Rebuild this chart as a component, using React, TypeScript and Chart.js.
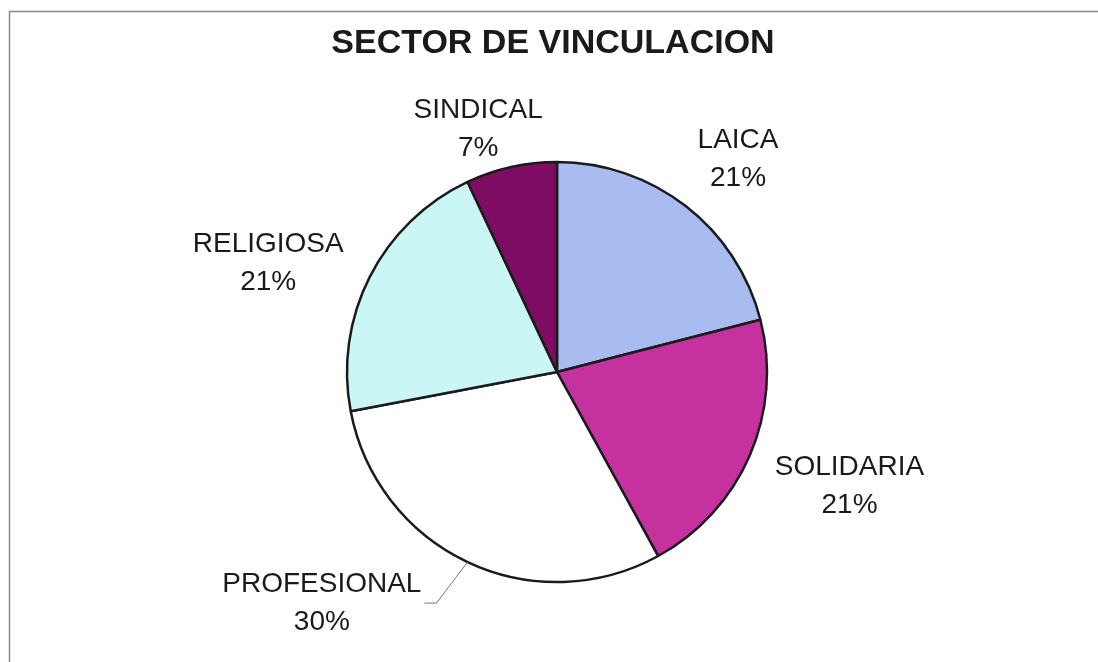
import React, { useEffect, useRef } from "react";
import { Chart, registerables } from "chart.js";

Chart.register(...registerables);

const TITLE = "SECTOR DE VINCULACION";
const categories = ["LAICA", "SOLIDARIA", "PROFESIONAL", "RELIGIOSA", "SINDICAL"];
const percentages = [21, 21, 30, 21, 7];
const sliceColors = ["#A9BCF0", "#C5319F", "#FFFFFF", "#CAF6F6", "#7E0C62"];

// label placement: shift of angle (degrees) from slice middle, distance as factor of radius
const labelAngleShift = [2.6, -2.1, 20.3, -6.3, -5.4];
const labelRadiusFactor = [1.33, 1.495, 1.57, 1.47, 1.215];
const leaderLines = [false, false, true, false, false];

const FONT = "'Liberation Sans', Arial, sans-serif";

const labelPlugin = {
  id: "sliceLabels",
  afterDraw(chart: any) {
    const ctx = chart.ctx;
    const meta = chart.getDatasetMeta(0);
    ctx.save();
    // frame
    ctx.strokeStyle = "#8a8a8a";
    ctx.lineWidth = 1.5;
    ctx.beginPath();
    ctx.moveTo(9.5, 662);
    ctx.lineTo(9.5, 11.5);
    ctx.lineTo(1098, 11.5);
    ctx.stroke();
    // title
    ctx.fillStyle = "#1a1a1a";
    ctx.font = `bold 34px ${FONT}`;
    ctx.textAlign = "center";
    ctx.textBaseline = "middle";
    ctx.fillText(TITLE, 553, 44);

    ctx.font = `28px ${FONT}`;
    meta.data.forEach((arc: any, i: number) => {
      const { x, y, startAngle, endAngle, outerRadius } = arc.getProps(
        ["x", "y", "startAngle", "endAngle", "outerRadius"],
        true
      );
      const mid = (startAngle + endAngle) / 2;
      const a = mid + (labelAngleShift[i] * Math.PI) / 180;
      const d = outerRadius * labelRadiusFactor[i];
      const cx = x + Math.cos(a) * d;
      const cy = y + Math.sin(a) * d;
      const l1 = categories[i];
      const l2 = percentages[i] + "%";
      ctx.fillStyle = "#1a1a1a";
      ctx.fillText(l1, cx, cy - 19);
      ctx.fillText(l2, cx, cy + 19);
      if (leaderLines[i]) {
        const w = ctx.measureText(l1).width;
        const ex = x + Math.cos(mid) * outerRadius;
        const ey = y + Math.sin(mid) * outerRadius;
        const right = cx + w / 2;
        ctx.strokeStyle = "#777";
        ctx.lineWidth = 1;
        ctx.beginPath();
        ctx.moveTo(ex, ey);
        ctx.lineTo(right + 15, cy);
        ctx.lineTo(right + 3, cy);
        ctx.stroke();
      }
    });
    ctx.restore();
  },
};

export default function App() {
  const ref = useRef<HTMLCanvasElement>(null);
  useEffect(() => {
    if (!ref.current) return;
    const chart = new Chart(ref.current, {
      type: "pie",
      data: {
        labels: categories,
        datasets: [
          {
            data: percentages,
            backgroundColor: sliceColors,
            borderColor: "#1b1b1b",
            borderWidth: 2.5,
            radius: 210,
          } as any,
        ],
      },
      options: {
        responsive: false,
        animation: false,
        layout: { padding: { left: 16, right: 0, top: 82, bottom: 0 } },
        plugins: {
          legend: { display: false },
          tooltip: { enabled: false },
          title: { display: false },
        },
      },
      plugins: [labelPlugin],
    });
    return () => chart.destroy();
  }, []);
  return (
    <div style={{ position: "absolute", left: 0, top: 0, width: 1098, height: 662, background: "#fff" }}>
      <canvas ref={ref} width={1098} height={662} style={{ display: "block" }} />
    </div>
  );
}
